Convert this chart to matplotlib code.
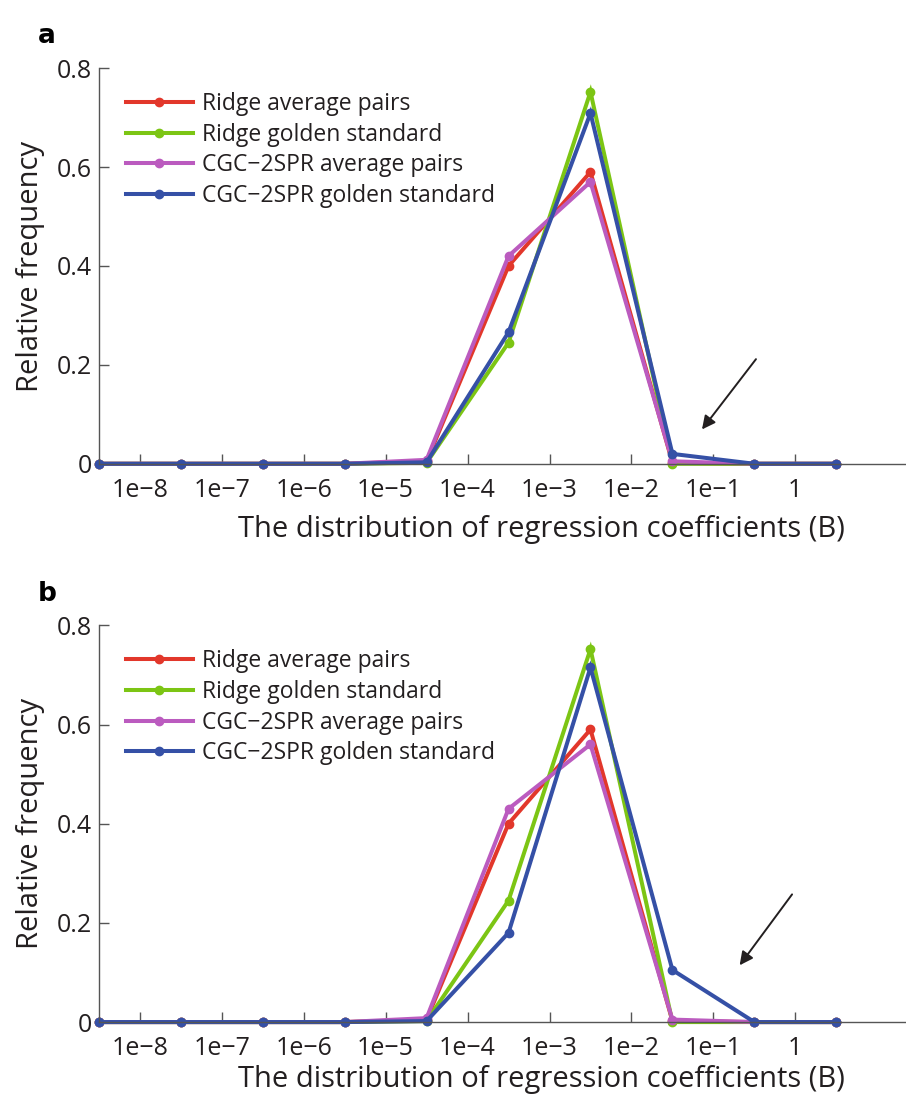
import matplotlib.pyplot as plt

plt.rcParams['font.family'] = ['Open Sans', 'DejaVu Sans']

# bins along the x axis (one point per bin)
bins = list(range(10))
tick_pos = [0.5, 1.5, 2.5, 3.5, 4.5, 5.5, 6.5, 7.5, 8.5]
tick_labels = ['1e\u22128', '1e\u22127', '1e\u22126', '1e\u22125', '1e\u22124',
               '1e\u22123', '1e\u22122', '1e\u22121', '1']

series_names = ['Ridge average pairs', 'Ridge golden standard',
                'CGC\u22122SPR average pairs', 'CGC\u22122SPR golden standard']
colors = ['#e2372b', '#7cc514', '#bb5bbf', '#3550a6']

# panel a
a_ridge_avg = [0, 0, 0, 0, 0.005, 0.40, 0.59, 0.002, 0, 0]
a_ridge_gold = [0, 0, 0, 0, 0.002, 0.245, 0.752, 0.0, 0, 0]
a_cgc_avg = [0, 0, 0, 0, 0.008, 0.42, 0.57, 0.005, 0, 0]
a_cgc_gold = [0, 0, 0, 0, 0.003, 0.266, 0.709, 0.02, 0, 0]

# panel b
b_ridge_avg = [0, 0, 0, 0, 0.005, 0.40, 0.59, 0.002, 0, 0]
b_ridge_gold = [0, 0, 0, 0, 0.002, 0.245, 0.752, 0.0, 0, 0]
b_cgc_avg = [0, 0, 0, 0, 0.008, 0.43, 0.56, 0.005, 0, 0]
b_cgc_gold = [0, 0, 0, 0, 0.002, 0.18, 0.715, 0.105, 0, 0]

fig = plt.figure(figsize=(9.06, 10.99), dpi=100)


def draw_panel(rect, series, letter, arrow_tail, arrow_head, xlabel_pad):
    ax = fig.add_axes(rect)
    for vals, name, c in zip(series, series_names, colors):
        ax.plot(bins, vals, color=c, lw=2.9, marker='o', ms=6, label=name,
                solid_joinstyle='miter', clip_on=False)
    ax.set_xlim(0, 9.85)
    ax.set_ylim(0, 0.8)
    ax.set_xticks(tick_pos)
    ax.set_xticklabels(tick_labels)
    ax.set_yticks([0, 0.2, 0.4, 0.6, 0.8])
    ax.set_yticklabels(['0', '0.2', '0.4', '0.6', '0.8'])
    for s in ['top', 'right']:
        ax.spines[s].set_visible(False)
    for s in ['left', 'bottom']:
        ax.spines[s].set_color('#555555')
        ax.spines[s].set_linewidth(1.0)
    ax.tick_params(direction='in', length=7, width=1, colors='#555555',
                   labelcolor='#231f20', labelsize=18)
    ax.tick_params(axis='x', pad=10)
    ax.tick_params(axis='y', pad=5)
    ax.set_ylabel('Relative frequency', fontsize=21, color='#231f20', labelpad=8)
    ax.set_xlabel('The distribution of regression coefficients (B)', fontsize=21,
                  color='#231f20', labelpad=xlabel_pad, x=0.548)
    leg = ax.legend(loc='upper left', bbox_to_anchor=(0.0, 1.01), frameon=False,
                    fontsize=16.5, handlelength=2.9, handletextpad=0.4,
                    labelspacing=0.3, borderaxespad=0.8)
    for t in leg.get_texts():
        t.set_color('#231f20')
    ax.annotate('', xy=arrow_head, xytext=arrow_tail,
                arrowprops=dict(arrowstyle='-|>', color='#231f20', lw=1.4,
                                mutation_scale=20))
    ax.text(-0.075, 1.08, letter, transform=ax.transAxes, fontsize=19,
            fontweight='bold', ha='left', va='center', family='DejaVu Sans')
    return ax


draw_panel([0.109, 0.578, 0.891, 0.360],
           [a_ridge_avg, a_ridge_gold, a_cgc_avg, a_cgc_gold], 'a',
           (8.04, 0.216), (7.34, 0.065), 9)
draw_panel([0.109, 0.070, 0.891, 0.361],
           [b_ridge_avg, b_ridge_gold, b_cgc_avg, b_cgc_gold], 'b',
           (8.48, 0.262), (7.80, 0.11), 3)

fig.savefig('out.png', dpi=100)
